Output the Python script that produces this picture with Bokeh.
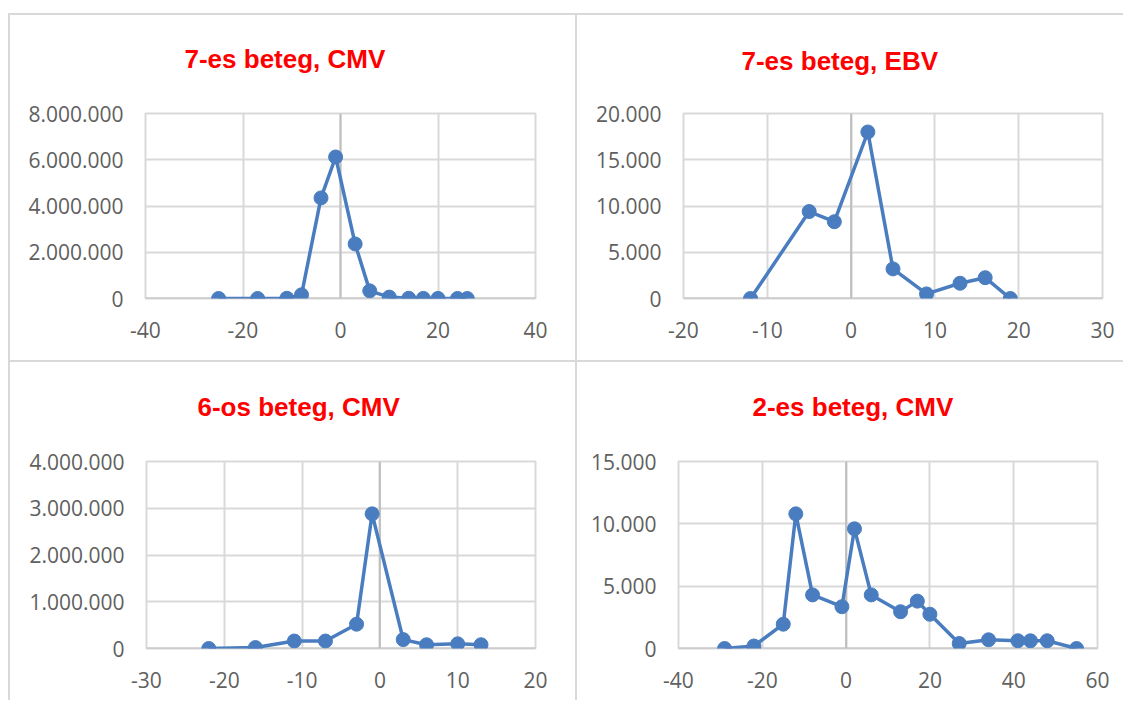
from bokeh.plotting import figure
from bokeh.models import FixedTicker, Span, Spacer, Range1d, Title
from bokeh.layouts import column, row
from bokeh.embed import file_html
from bokeh.resources import INLINE

# ---------------- data ----------------
titles = ["7-es beteg, CMV", "7-es beteg, EBV", "6-os beteg, CMV", "2-es beteg, CMV"]

cmv7_days = [-25, -17, -11, -8, -4, -1, 3, 6, 10, 14, 17, 20, 24, 26]
cmv7_values = [0, 0, 10000, 160000, 4350000, 6120000, 2360000, 330000, 60000, 10000, 5000, 5000, 0, 0]

ebv7_days = [-12, -5, -2, 2, 5, 9, 13, 16, 19]
ebv7_values = [0, 9400, 8300, 18000, 3200, 500, 1650, 2250, 0]

cmv6_days = [-22, -16, -11, -7, -3, -1, 3, 6, 10, 13]
cmv6_values = [0, 20000, 160000, 160000, 520000, 2880000, 190000, 80000, 100000, 80000]

cmv2_days = [-29, -22, -15, -12, -8, -1, 2, 6, 13, 17, 20, 27, 34, 41, 44, 48, 55]
cmv2_values = [0, 200, 1950, 10800, 4300, 3350, 9600, 4300, 2950, 3800, 2750, 400, 700, 620, 620, 620, 0]

x_ticks_1 = [-40, -20, 0, 20, 40]
x_labels_1 = ["-40", "-20", "0", "20", "40"]
y_ticks_1 = [0, 2000000, 4000000, 6000000, 8000000]
y_labels_1 = ["0", "2.000.000", "4.000.000", "6.000.000", "8.000.000"]

x_ticks_2 = [-20, -10, 0, 10, 20, 30]
x_labels_2 = ["-20", "-10", "0", "10", "20", "30"]
y_ticks_2 = [0, 5000, 10000, 15000, 20000]
y_labels_2 = ["0", "5.000", "10.000", "15.000", "20.000"]

x_ticks_3 = [-30, -20, -10, 0, 10, 20]
x_labels_3 = ["-30", "-20", "-10", "0", "10", "20"]
y_ticks_3 = [0, 1000000, 2000000, 3000000, 4000000]
y_labels_3 = ["0", "1.000.000", "2.000.000", "3.000.000", "4.000.000"]

x_ticks_4 = [-40, -20, 0, 20, 40, 60]
x_labels_4 = ["-40", "-20", "0", "20", "40", "60"]
y_ticks_4 = [0, 5000, 10000, 15000]
y_labels_4 = ["0", "5.000", "10.000", "15.000"]

# ---------------- style ----------------
LINE = "#4a7dbf"
GRID = "#d9d9d9"
AXIS0 = "#bfbfbf"
BORDER = "#d9d9d9"
TICK_COLOR = "#606060"
TICK_FONT = "Open Sans"
TICK_SIZE = "21px"


def make_chart(title, xs, ys, xt, xl, yt, yl, w, h, mb_left, mb_right, mb_bottom,
               title_offset, title_standoff, gap_standoff):
    p = figure(width=w, height=h,
               x_range=Range1d(xt[0], xt[-1]), y_range=Range1d(yt[0], yt[-1]),
               output_backend="svg", toolbar_location=None,
               min_border_left=mb_left, min_border_right=mb_right,
               min_border_bottom=mb_bottom, min_border_top=0)
    p.border_fill_color = None
    p.background_fill_color = "white"
    p.outline_line_color = GRID
    p.outline_line_width = 2
    p.styles = {"box-shadow": f"inset 2px 2px 0 0 {BORDER}"}

    # small blank gap between the title and the plot area
    p.add_layout(Title(text=" ", text_font_size="1px", standoff=gap_standoff), "above")

    p.title.text = title
    p.title.align = "left"
    p.title.offset = title_offset
    p.title.vertical_align = "top"
    p.title.standoff = title_standoff
    p.title.text_font = "Liberation Sans"
    p.title.text_font_style = "bold"
    p.title.text_font_size = "26px"
    p.title.text_color = "#ff0000"

    p.xaxis.ticker = FixedTicker(ticks=xt)
    p.yaxis.ticker = FixedTicker(ticks=yt)
    p.xaxis.major_label_overrides = {t: s for t, s in zip(xt, xl)}
    p.yaxis.major_label_overrides = {t: s for t, s in zip(yt, yl)}
    for ax in (p.xaxis[0], p.yaxis[0]):
        ax.axis_line_color = None
        ax.major_tick_line_color = None
        ax.minor_tick_line_color = None
        ax.major_tick_out = 0
        ax.major_tick_in = 0
        ax.major_label_text_font = TICK_FONT
        ax.major_label_text_font_size = TICK_SIZE
        ax.major_label_text_color = TICK_COLOR
    p.xaxis.major_label_standoff = 23
    p.yaxis.major_label_standoff = 22

    p.xgrid.grid_line_color = GRID
    p.ygrid.grid_line_color = GRID
    p.xgrid.grid_line_width = 2
    p.ygrid.grid_line_width = 2

    p.add_layout(Span(location=0, dimension="height", line_color=AXIS0, line_width=2, level="underlay"))
    p.add_layout(Span(location=0, dimension="width", line_color=AXIS0, line_width=2, level="underlay"))

    p.line(xs, ys, line_color=LINE, line_width=3.5)
    p.scatter(xs, ys, size=14, fill_color=LINE, line_color=LINE)
    return p


p1 = make_chart(titles[0], cmv7_days, cmv7_values, x_ticks_1, x_labels_1, y_ticks_1, y_labels_1,
                567, 347, 137, 40, 61, 39, 61, 4)
p2 = make_chart(titles[1], ebv7_days, ebv7_values, x_ticks_2, x_labels_2, y_ticks_2, y_labels_2,
                548, 347, 108, 21, 62, 58, 65, 0)
p3 = make_chart(titles[2], cmv6_days, cmv6_values, x_ticks_3, x_labels_3, y_ticks_3, y_labels_3,
                567, 340, 138, 40, 52, 51, 62, 4)
p4 = make_chart(titles[3], cmv2_days, cmv2_values, x_ticks_4, x_labels_4, y_ticks_4, y_labels_4,
                548, 340, 103, 26, 52, 74, 62, 4)

layout = column(Spacer(width=1123, height=13),
                row(Spacer(width=8, height=347), p1, p2),
                row(Spacer(width=8, height=340), p3, p4))

open("out.html", "w").write(file_html(layout, INLINE))
